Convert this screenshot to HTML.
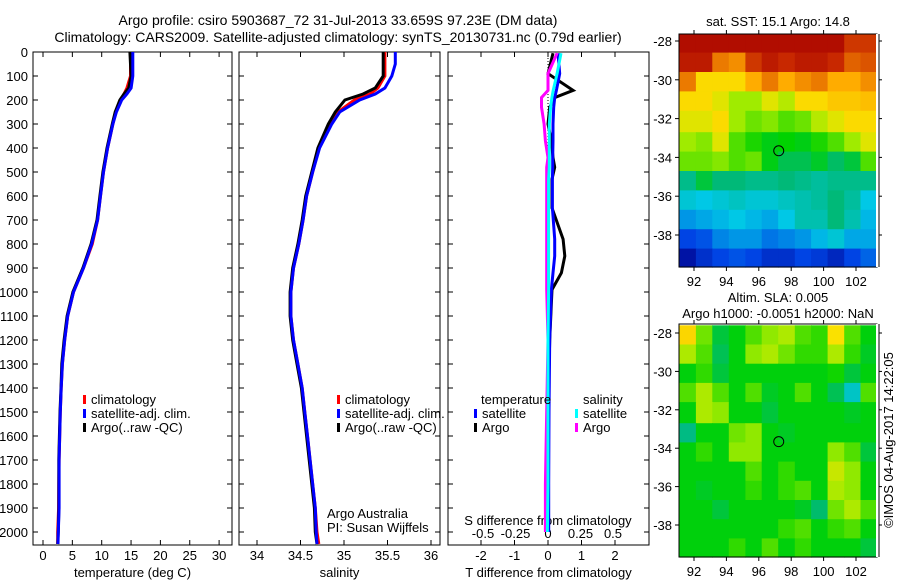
<!DOCTYPE html>
<html><head><meta charset="utf-8">
<style>
body{margin:0;background:#fff;}
svg{display:block;font-family:"Liberation Sans",sans-serif;}
text{font-size:13px;fill:#000;}
</style></head>
<body>
<svg id="chart" width="900" height="580" viewBox="0 0 900 580">
<text x="338" y="25" text-anchor="middle" style="font-size:14px">Argo profile: csiro 5903687_72 31-Jul-2013 33.659S 97.23E (DM data)</text>
<text x="338" y="42" text-anchor="middle" style="font-size:14px">Climatology: CARS2009. Satellite-adjusted climatology: synTS_20130731.nc (0.79d earlier)</text>
<g id="g"></g>
</svg>
<script>
// ---- profile data ----
const depths=[0,50,100,150,175,200,250,300,400,500,600,700,800,900,1000,1100,1200,1300,1400,1500,1600,1700,1800,1900,2000,2050];
const tempArgo=[14.8,14.9,15.0,14.6,13.8,13.1,12.3,11.8,10.9,10.2,9.7,9.2,8.2,6.8,5.1,4.1,3.6,3.2,3.07,2.9,2.8,2.7,2.7,2.7,2.6,2.5];
const tempSat=[15.3,15.3,15.3,15.0,14.3,13.4,12.5,11.9,11.0,10.3,9.8,9.3,8.3,6.9,5.2,4.2,3.7,3.3,3.1,2.95,2.85,2.75,2.75,2.75,2.6,2.55];
const tempClim=[14.9,14.9,14.9,14.3,13.8,13.2,12.4,11.9,11.0,10.3,9.8,9.3,8.4,6.9,5.2,4.2,3.7,3.3,3.1,2.95,2.85,2.75,2.7,2.65,2.5,2.5];
const salArgo=[35.45,35.45,35.45,35.36,35.22,35.01,34.9,34.82,34.7,34.63,34.56,34.52,34.47,34.41,34.38,34.38,34.41,34.46,34.51,34.54,34.57,34.6,34.63,34.66,34.67,34.69];
const salSat=[35.59,35.59,35.55,35.47,35.36,35.18,34.95,34.86,34.72,34.64,34.57,34.53,34.48,34.42,34.39,34.39,34.42,34.47,34.52,34.55,34.58,34.61,34.64,34.67,34.68,34.69];
const salClim=[35.47,35.47,35.47,35.39,35.3,35.12,34.93,34.84,34.71,34.64,34.57,34.53,34.48,34.42,34.39,34.39,34.42,34.47,34.52,34.55,34.58,34.61,34.64,34.67,34.69,34.71];
const diffDepths=[5,90,160,190,230,300,370,440,480,530,650,780,850,920,990,1200,1500,1800,2000];
const dTArgo=[0.15,0,0.75,0.2,0.05,0,0.1,0.15,0.2,0.12,0.12,0.45,0.5,0.4,0.12,0.05,0,0,0];
const dTSat=[0.3,0.35,0.25,0.2,0.17,0.15,0.15,0.14,0.14,0.13,0.13,0.2,0.2,0.15,0.1,0.05,0.03,0.02,0.02];
const dSArgo=[0.07,0,0,-0.05,-0.05,-0.03,-0.02,0,-0.01,-0.01,-0.01,-0.01,-0.01,-0.01,-0.01,0,-0.01,-0.02,-0.02];
const dSSat=[0.1,0.07,0.04,0.03,0.02,0.01,0.01,0.01,0.01,0.005,0.005,0.005,0.005,0.005,0.005,0,0,0,-0.005];
const depthTicks=[0,100,200,300,400,500,600,700,800,900,1000,1100,1200,1300,1400,1500,1600,1700,1800,1900,2000];
const tempTicks=[0,5,10,15,20,25,30];
const salTicks=[34,34.5,35,35.5,36];
const dTTicks=[-2,-1,0,1,2];
const dSTicks=[-0.5,-0.25,0,0.25,0.5];
const dSTickLabels=["-0.5","-0.25","0","0.25","0.5"];
// ---- map data ----
const lonTicks=[92,94,96,98,100,102];
const latTicks=[-28,-30,-32,-34,-36,-38];
const gridLons=[91.1,92.12,93.13,94.15,95.17,96.18,97.2,98.22,99.23,100.25,101.27,102.28];
const gridLats=[-27.6,-28.6,-29.6,-30.6,-31.6,-32.7,-33.7,-34.7,-35.7,-36.7,-37.7,-38.7];
const sst=[
[18,18,18,18,18,18,18,18,18,18,17.5,17.5],
[17.8,17.8,17,16.8,17.5,17.8,17.6,17.8,17.8,17.6,17.2,17.3],
[17,16,16,16,16.5,17,16.5,16.8,17,16.5,16.5,16.8],
[16,16,15.8,15.5,15.5,15.8,15.6,16,16,16.2,16.2,16.3],
[15.8,15.8,16,15.5,15.3,15.4,15.2,15.3,15.6,15.8,16,16],
[15.5,15.4,15.8,15.2,15,14.8,14.9,14.8,15,15.2,15.5,15.8],
[15.3,15.3,15.4,15.2,15.3,14.8,14.5,14.5,14.7,14.4,14.6,15.2],
[14.2,14.6,14.3,14.3,14.2,14.2,14.3,14.2,14.1,14.2,14.2,14.2],
[13.8,13.7,13.8,13.9,13.8,13.8,13.9,14,14.1,14.3,14.1,13.7],
[13.4,13.5,13.6,13.7,13.6,13.5,13.7,14,14,14.3,14,13.6],
[12.9,13,13.3,13.4,13.4,13.2,13.3,13.4,13.6,13.8,13.5,13.5],
[12.4,12.7,12.9,13,12.9,12.7,12.7,12.9,12.8,12.6,12.9,13.1]];
const sla=[
[0.1,0.04,-0.02,0,0.03,0.05,0.06,0.03,0.02,0.09,0.03,0],
[0.06,0.03,-0.03,0,0.05,0.06,0.04,0.02,0.02,0.06,0.02,-0.01],
[0,0.02,-0.02,0,0,0,0,0,0,0.01,-0.02,0],
[0.03,0.06,0.03,0,0.03,-0.01,0,0.03,0,-0.03,-0.08,0.03],
[0,0.06,0.05,0,0,-0.02,0,0,0,0,-0.01,0],
[-0.05,0,0,0.04,0.05,0,-0.01,0,0,0,0,0],
[0,0.02,0,0.05,0.05,0,0,0,0,0.05,0.03,-0.02],
[0,0,0,0,0.03,0,0.02,0,0,0.07,0.05,0],
[0,-0.01,0,0,0.02,0,0.02,0.03,0,0.06,0.05,0],
[0,0,-0.02,0,0,0,0,-0.01,-0.04,0.04,0.06,0.03],
[0,0,0,0,0,0,0.02,0.03,0,0.02,0.03,0],
[0,0,0,0.02,0,0.03,0,0.02,0,0,0,-0.02]];
const argoLon=97.23, argoLat=-33.659;

const NS='http://www.w3.org/2000/svg';
const G=document.getElementById('g');
function mk(tag,attrs,parent){const e=document.createElementNS(NS,tag);for(const k in attrs)e.setAttribute(k,attrs[k]);(parent||G).appendChild(e);return e;}
function txt(x,y,s,anchor,parent){const t=mk('text',{x:x,y:y,'text-anchor':anchor||'middle'},parent);t.textContent=s;return t;}

const yTop=52, yBot=545;
const yD=d=>yTop+d*0.24;

function panel(name,x0,x1,xs,ticks,labels,xlabel){
  const g=mk('g',{});
  
  
  const r=mk('rect',{x:x0,y:yTop,width:x1-x0,height:yBot-yTop,fill:'#fff',stroke:'#000','stroke-width':1},g);
  
  
  depthTicks.forEach(d=>{
    mk('line',{x1:x0,x2:x0+5,y1:yD(d),y2:yD(d),stroke:'#000'},g);
    mk('line',{x1:x1-5,x2:x1,y1:yD(d),y2:yD(d),stroke:'#000'},g);
  });
  ticks.forEach((v,i)=>{
    const x=xs(v);
    mk('line',{x1:x,x2:x,y1:yBot,y2:yBot-5,stroke:'#000'},g);
    mk('line',{x1:x,x2:x,y1:yTop,y2:yTop+5,stroke:'#000'},g);
    const t=txt(x,yBot+15,labels?labels[i]:String(v),'middle',g);
    
    
  });
  const xl=txt((x0+x1)/2,yBot+32,xlabel,'middle',g);
  
  
  return g;
}
function line(g,xs,xv,dv,color,name,w){
  const pts=xv.map((v,i)=>xs(v).toFixed(1)+','+yD(dv[i]).toFixed(1)).join(' ');
  const p=mk('polyline',{points:pts,fill:'none',stroke:color,'stroke-width':w||3},g);
  
  
}
function legend(g,x,y,color,label,name){
  const r=mk('rect',{x:x,y:y-9,width:3,height:9,fill:color},g);
  
  
  const t=txt(x+8,y,label,'start',g);
  
  
}

depthTicks.forEach(d=>{
  const t=txt(28,yD(d)+5,String(d),'end');
  
  
});

const xT=v=>43+v*5.87;
const p1=panel('temperature',33,232,xT,tempTicks,null,'temperature (deg C)');
line(p1,xT,tempClim,depths,'#f00','temperature-climatology-line');
line(p1,xT,tempArgo,depths,'#000','temperature-argo-line');
line(p1,xT,tempSat,depths,'#00f','temperature-satellite-line');
legend(p1,83,404,'#f00','climatology','legend-climatology');
legend(p1,83,418,'#00f','satellite-adj. clim.','legend-satellite');
legend(p1,83,432,'#000','Argo(..raw -QC)','legend-argo');

const xS=v=>257+(v-34)*87;
const p2=panel('salinity',239,440,xS,salTicks,null,'salinity');
line(p2,xS,salClim,depths,'#f00','salinity-climatology-line');
line(p2,xS,salArgo,depths,'#000','salinity-argo-line');
line(p2,xS,salSat,depths,'#00f','salinity-satellite-line');
legend(p2,337,404,'#f00','climatology','legend-climatology');
legend(p2,337,418,'#00f','satellite-adj. clim.','legend-satellite');
legend(p2,337,432,'#000','Argo(..raw -QC)','legend-argo');
let t=txt(327,518,'Argo Australia','start',p2);
t=txt(327,532,'PI: Susan Wijffels','start',p2);

const xdT=v=>548+v*33.5;
const xdS=v=>548+v*130;
const p3=panel('difference',448,649,xdT,dTTicks,null,'T difference from climatology');
mk('line',{x1:548,x2:548,y1:yTop,y2:yD(400),stroke:'#000','stroke-dasharray':'1,2'},p3);
dSTicks.forEach((v,i)=>{const tt=txt(xdS(v),538,dSTickLabels[i],'middle',p3);});
t=txt(548,525,'S difference from climatology','middle',p3);
line(p3,xdT,dTArgo,diffDepths,'#000','t-diff-argo-line');
line(p3,xdT,dTSat,diffDepths,'#00f','t-diff-satellite-line');
line(p3,xdS,dSArgo,diffDepths,'#f0f','s-diff-argo-line');
line(p3,xdS,dSSat,diffDepths,'#0ff','s-diff-satellite-line');
t=txt(481,404,'temperature','start',p3);
t=txt(583,404,'salinity','start',p3);
legend(p3,474,418,'#00f','satellite','legend-t-satellite');
legend(p3,474,432,'#000','Argo','legend-t-argo');
legend(p3,575,418,'#0ff','satellite','legend-s-satellite');
legend(p3,575,432,'#f0f','Argo','legend-s-argo');

const stops=[[0,[0,0,140]],[0.12,[0,70,230]],[0.25,[0,200,230]],[0.35,[0,185,120]],[0.45,[0,210,0]],[0.55,[160,235,0]],[0.62,[250,225,0]],[0.72,[255,170,0]],[0.82,[230,110,0]],[0.9,[200,40,0]],[1,[165,0,0]]];
function cmap(f){f=Math.max(0,Math.min(1,f));for(let i=1;i<stops.length;i++){if(f<=stops[i][0]){const a=stops[i-1],b=stops[i];const u=(f-a[0])/(b[0]-a[0]);const c=a[1].map((v,k)=>Math.round(v+(b[1][k]-v)*u));return 'rgb('+c.join(',')+')';}}return 'rgb(165,0,0)';}

function mapPanel(name,top,bot,lat28,lat38,values,vmin,vmax,title,titleBase){
  const x0=679,x1=877;
  const xL=lon=>694+(lon-92)*16.2;
  const yL=lat=>lat28+(-28-lat)*(lat38-lat28)/10;
  const g=mk('g',{});
  
  
  const cw=xL(gridLons[1])-xL(gridLons[0]);
  values.forEach((row,i)=>row.forEach((v,j)=>{
    const ya=Math.max(top,yL(gridLats[i])), yb=(i+1<gridLats.length)?yL(gridLats[i+1]):bot;
    const c=mk('rect',{x:xL(gridLons[j]).toFixed(1),y:ya.toFixed(1),width:(cw+0.6).toFixed(1),height:(yb-ya+0.6).toFixed(1),fill:cmap((v-vmin)/(vmax-vmin))},g);
    
    
  }));
  const fr=mk('rect',{x:x0,y:top,width:x1-x0,height:bot-top,fill:'none',stroke:'#000'},g);
  
  
  mk('rect',{x:x1-1,y:top,width:4,height:bot-top,fill:'#fff'},g);
  mk('line',{x1:x1+2,x2:x1+2,y1:top,y2:bot,stroke:'#000'},g);
  lonTicks.forEach(l=>{
    const x=xL(l);
    mk('line',{x1:x,x2:x,y1:top,y2:top-4,stroke:'#000'},g);
    mk('line',{x1:x,x2:x,y1:bot,y2:bot+4,stroke:'#000'},g);
    const tt=txt(x,bot+19,String(l),'middle',g);
    
    
  });
  latTicks.forEach(l=>{
    const y=yL(l);
    mk('line',{x1:x0,x2:x0-4,y1:y,y2:y,stroke:'#000'},g);
    mk('line',{x1:x1+2,x2:x1+5,y1:y,y2:y,stroke:'#000'},g);
    const tt=txt(x0-7,y+5,String(l),'end',g);
    
    
  });
  const ci=mk('circle',{cx:xL(argoLon),cy:yL(argoLat),r:5,fill:'none',stroke:'#000'},g);
  
  
  title.forEach((s,i)=>{const tt=txt(778,titleBase+i*16,s,'middle',g);});
}
mapPanel('sst',34,267,41,235,sst,12.2,18.2,['sat. SST: 15.1 Argo: 14.8'],26);
mapPanel('sla',324,557,333,525,sla,-0.22,0.28,['Altim. SLA: 0.005','Argo h1000: -0.0051 h2000: NaN'],302);

const cr=mk('text',{x:0,y:0,transform:'translate(893,440) rotate(-90)','text-anchor':'middle'});
cr.textContent='©IMOS 04-Aug-2017 14:22:05';


</script>
</body></html>
